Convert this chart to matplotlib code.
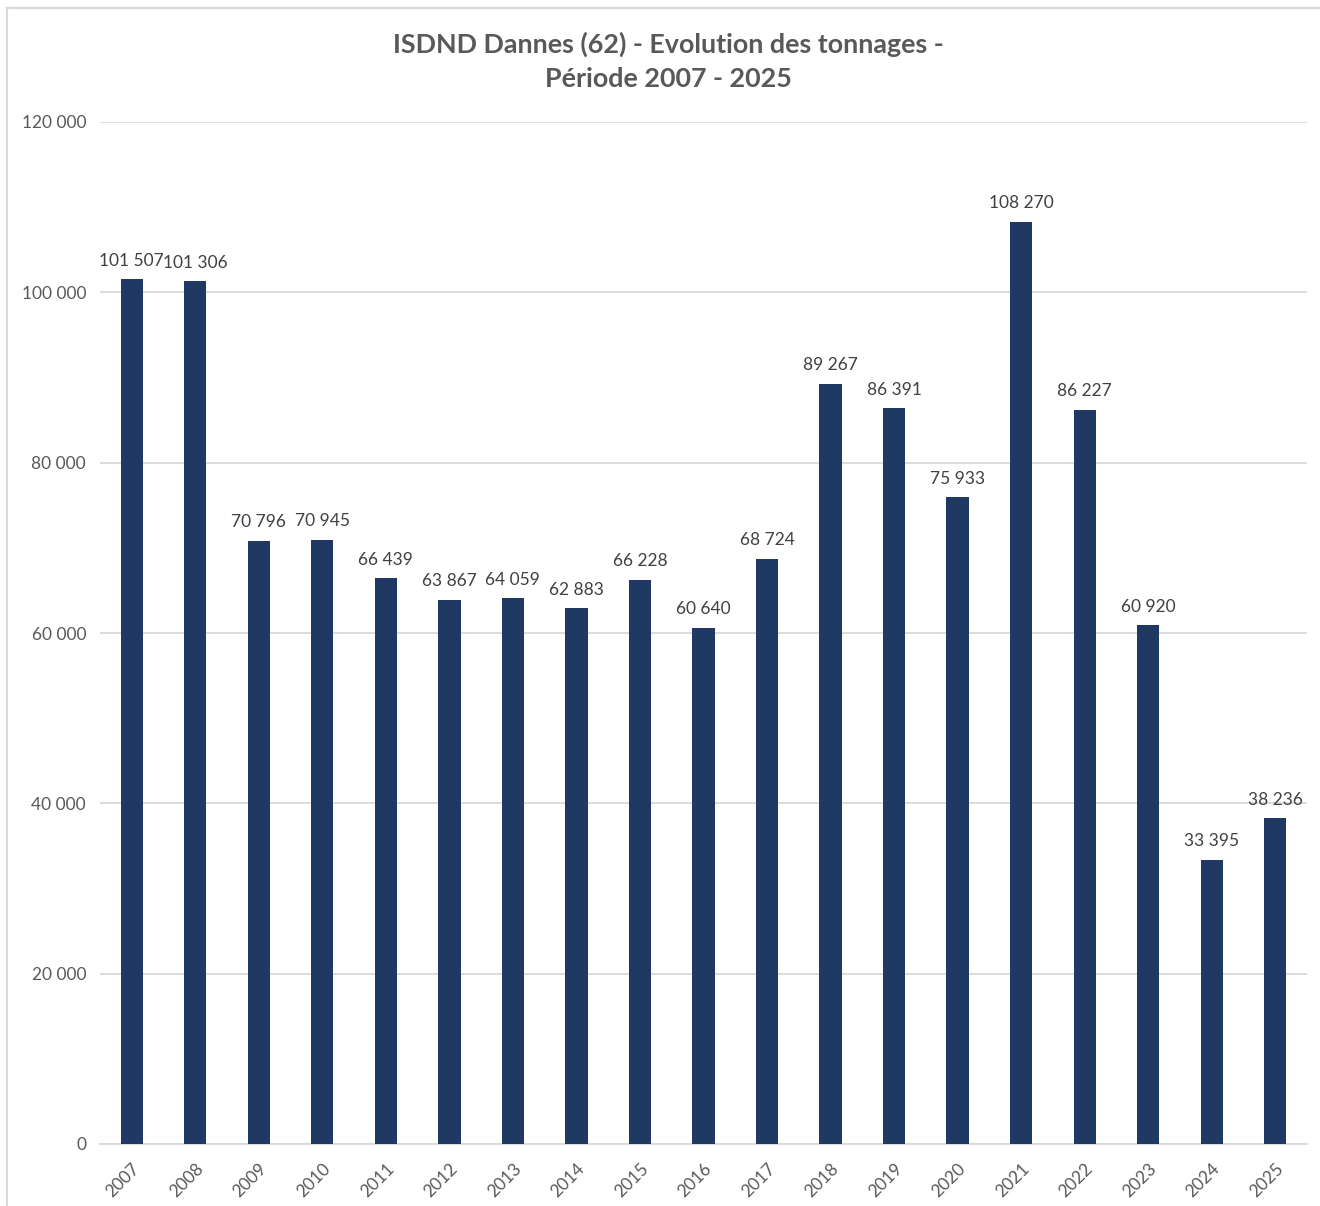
import matplotlib.pyplot as plt
from matplotlib.lines import Line2D

years = [str(y) for y in range(2007, 2026)]
tonnages = [101507, 101306, 70796, 70945, 66439, 63867, 64059, 62883, 66228,
            60640, 68724, 89267, 86391, 75933, 108270, 86227, 60920, 33395, 38236]
yticks = [0, 20000, 40000, 60000, 80000, 100000, 120000]


def fr(n):
    # French thousands separator
    return f"{n:,}".replace(",", " ")


plt.rcParams['font.family'] = ['Lato', 'DejaVu Sans']

fig = plt.figure(figsize=(13.2, 12.06), dpi=100)
ax = fig.add_axes([100 / 1320, 1 - 1144 / 1206, 1207 / 1320, 1022 / 1206])

bar_color = '#1f3864'
x = range(len(years))
ax.bar(x, tonnages, width=0.35, color=bar_color, zorder=3)

for i, v in zip(x, tonnages):
    ax.text(i, v + 1250, fr(v), ha='center', va='bottom', fontsize=12.5, color='#404040')

ax.set_xlim(-0.5, len(years) - 0.5)
ax.set_ylim(0, 120000)
ax.set_yticks(yticks)
ax.set_yticklabels([fr(t) for t in yticks], fontsize=12.5, color='#595959')
ax.set_xticks(list(x))
ax.set_xticklabels(years, rotation=45, ha='right', rotation_mode='anchor',
                   fontsize=12.5, color='#595959')
ax.tick_params(axis='both', length=0)
ax.tick_params(axis='y', pad=10)
ax.tick_params(axis='x', pad=12)
ax.grid(axis='y', color='#d9d9d9', linewidth=1.3, zorder=0)
for s in ['top', 'right', 'left']:
    ax.spines[s].set_visible(False)
ax.spines['bottom'].set_color('#d9d9d9')
ax.spines['bottom'].set_linewidth(1.3)

fig.text(668 / 1320, 1 - 61 / 1206,
         "ISDND Dannes (62) - Evolution des tonnages -\nPériode 2007 - 2025",
         ha='center', va='center', fontsize=19.4, fontweight='bold', color='#595959',
         linespacing=1.5)

# chart frame
fig.add_artist(Line2D([7 / 1320, 7 / 1320], [0, 1 - 8 / 1206], color='#d9d9d9',
                      linewidth=1.5, transform=fig.transFigure))
fig.add_artist(Line2D([7 / 1320, 1], [1 - 8 / 1206, 1 - 8 / 1206], color='#d9d9d9',
                      linewidth=1.5, transform=fig.transFigure))

fig.savefig('out.png', dpi=100)
